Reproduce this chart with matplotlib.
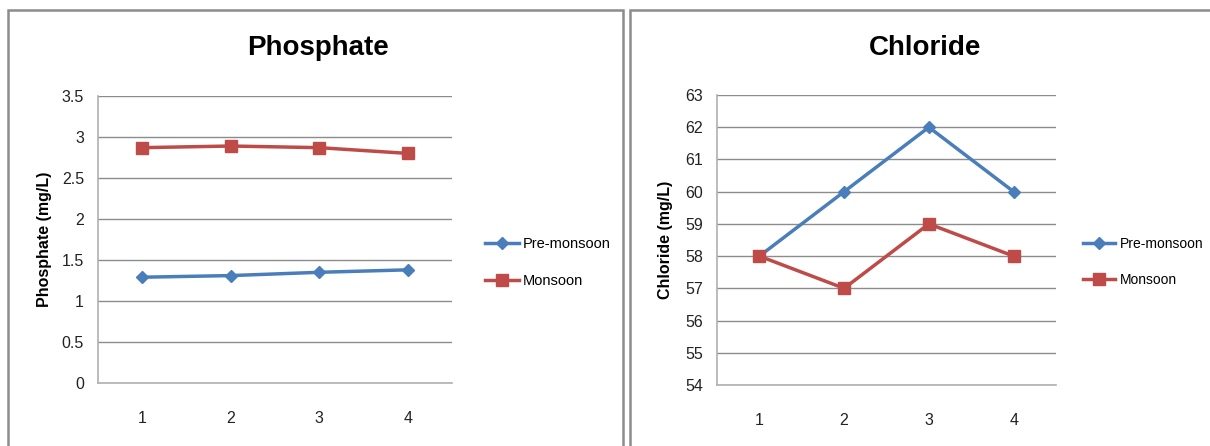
import matplotlib.pyplot as plt
from matplotlib.patches import Rectangle

W, H = 1210, 446

sites = [1, 2, 3, 4]
phosphate_pre = [1.29, 1.31, 1.35, 1.38]
phosphate_mon = [2.87, 2.89, 2.87, 2.80]
chloride_pre = [58, 60, 62, 60]
chloride_mon = [58, 57, 59, 58]

BLUE = '#4A7EBB'
RED = '#BE4B48'
plt.rcParams['font.family'] = ['Liberation Sans', 'DejaVu Sans']

fig = plt.figure(figsize=(W / 100, H / 100), dpi=100)


def px_axes(x0, y0, x1, y1):
    # pixel box (top-left origin) -> figure fraction
    return fig.add_axes([x0 / W, 1 - y1 / H, (x1 - x0) / W, (y1 - y0) / H])


def frame(x0, x1):
    fig.patches.append(Rectangle((x0 / W, -0.1), (x1 - x0) / W, 1.1 - 10 / H,
                                 transform=fig.transFigure, fill=False,
                                 edgecolor='#8c8c8c', linewidth=1.8))


def draw(ax, pre, mon, ylim, step, ylabel, title, tx, lx, ly, fmt, lpad, lfs):
    ax.plot(sites, pre, color=BLUE, lw=2.5, marker='D', ms=6, label='Pre-monsoon')
    ax.plot(sites, mon, color=RED, lw=2.5, marker='s', ms=8, label='Monsoon')
    ax.set_xlim(0.5, 4.5)
    ax.set_ylim(*ylim)
    ticks = []
    v = ylim[0]
    while v <= ylim[1] + 1e-9:
        ticks.append(v)
        v += step
    ax.set_yticks(ticks)
    ax.set_yticklabels([fmt(t) for t in ticks])
    ax.set_xticks(sites)
    ax.grid(axis='y', color='#8c8c8c', lw=1)
    ax.set_axisbelow(True)
    for s in ['top', 'right']:
        ax.spines[s].set_visible(False)
    for s in ['left', 'bottom']:
        ax.spines[s].set_color('#b0b0b0')
        ax.spines[s].set_linewidth(1.2)
    ax.tick_params(length=0, labelsize=11.5, colors='#222222')
    ax.tick_params(axis='x', pad=20)
    ax.tick_params(axis='y', pad=10)
    ax.set_ylabel(ylabel, fontsize=11.5, fontweight='bold', labelpad=lpad)
    fig.text(tx / W, 1 - 48 / H, title, fontsize=20, fontweight='bold',
             ha='center', va='center')
    ax.legend(loc='center left', bbox_to_anchor=(lx, ly), frameon=False,
              fontsize=lfs, handlelength=2.3, handletextpad=0.3,
              labelspacing=1.6, borderpad=0)


frame(8, 623)
frame(630, 1260)

ax1 = px_axes(98, 96, 452, 383)
draw(ax1, phosphate_pre, phosphate_mon, (0, 3.5), 0.5, 'Phosphate (mg/L)',
     'Phosphate', 318, 1.073, 0.42, lambda t: ('%g' % t), 7, 10.5)

ax2 = px_axes(717, 95, 1056, 385)
draw(ax2, chloride_pre, chloride_mon, (54, 63), 1, 'Chloride (mg/L)',
     'Chloride', 925, 1.06, 0.424, lambda t: '%d' % t, 9, 10)

fig.savefig('out.png', dpi=100)
